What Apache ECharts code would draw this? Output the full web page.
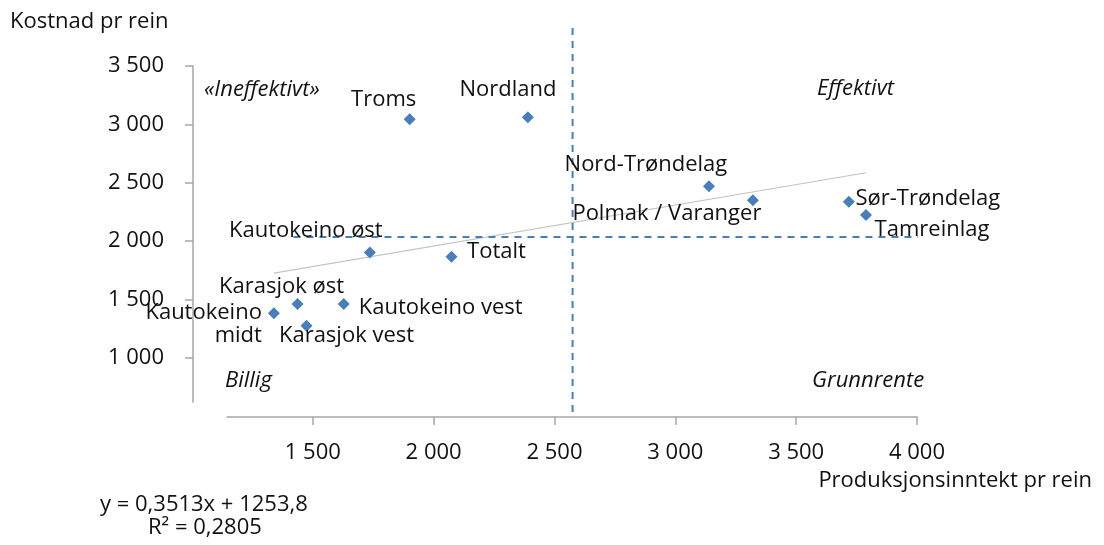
<!DOCTYPE html>
<html>
<head>
<meta charset="utf-8">
<style>
  html, body { margin: 0; padding: 0; background: #fff; }
  #chart { width: 1104px; height: 545px; }
</style>
<script src="https://cdn.jsdelivr.net/npm/echarts@6/dist/echarts.min.js"></script>
</head>
<body>
<div id="chart"></div>
<script>
// data
const areaNames = ['Troms', 'Nordland', 'Nord-Trøndelag', 'Polmak / Varanger', 'Sør-Trøndelag', 'Tamreinlag',
  'Kautokeino øst', 'Totalt', 'Karasjok øst', 'Kautokeino vest', 'Kautokeino\nmidt', 'Karasjok vest'];
const incomePerRein = [1901, 2390, 3139, 3321, 3718, 3789, 1736, 2074, 1437, 1628, 1339, 1474];
const costPerRein = [3044, 3061, 2470, 2350, 2336, 2222, 1902, 1865, 1460, 1460, 1380, 1274];
const xTickValues = [1500, 2000, 2500, 3000, 3500, 4000];
const yTickValues = [1000, 1500, 2000, 2500, 3000, 3500];
const trendStart = [1339, 1724];
const trendEnd = [3789, 2585];
const dividerIncome = 2575;
const dividerCost = 2035;
const dividerIncomeSpan = [535, 3865];
const dividerCostSpan = [1420, 4040];

// where each point label sits relative to its marker (px)
const labelOffsets = {
  'Troms': [-26, -19],
  'Nordland': [-20, -27],
  'Nord-Trøndelag': [-63, -21],
  'Polmak / Varanger': [-86, 14],
  'Sør-Trøndelag': [79, -3],
  'Tamreinlag': [66, 15],
  'Kautokeino øst': [-64, -22],
  'Totalt': [45, -5],
  'Karasjok øst': [-16, -17],
  'Kautokeino vest': [97, 4],
  'Kautokeino\nmidt': [-12, 11],
  'Karasjok vest': [40, 10]
};

const FONT = '"Open Sans", sans-serif';
const TEXT = '#111';
const BLUE = '#4a7ebb';
const AXIS = '#a6a6a6';
const SIZE = 22;

const fmt = v => String(v).replace(/\B(?=(\d{3})+(?!\d))/g, ' ');

const points = areaNames.map((name, i) => {
  const isRightAligned = name === 'Kautokeino\nmidt';
  return {
    name: name,
    value: [incomePerRein[i], costPerRein[i]],
    label: {
      offset: labelOffsets[name],
      align: isRightAligned ? 'right' : 'center'
    }
  };
});

const chart = echarts.init(document.getElementById('chart'), null, { renderer: 'canvas' });

const italic = { fontFamily: FONT, fontSize: SIZE, fontStyle: 'italic', fill: TEXT };

chart.setOption({
  animation: false,
  backgroundColor: '#fff',
  textStyle: { fontFamily: FONT, color: TEXT },
  grid: { left: 227, right: 187, top: 66, bottom: 143 },
  xAxis: {
    type: 'value',
    min: 1145,
    max: 4000,
    offset: 15,
    axisLine: { show: true, lineStyle: { color: AXIS, width: 1.5 } },
    axisTick: { show: true, length: 8, lineStyle: { color: AXIS, width: 1.5 }, customValues: xTickValues },
    axisLabel: { customValues: xTickValues, formatter: fmt, margin: 25, fontSize: SIZE, fontFamily: FONT, color: TEXT },
    splitLine: { show: false }
  },
  yAxis: {
    type: 'value',
    min: 620,
    max: 3500,
    offset: 34,
    axisLine: { show: true, lineStyle: { color: AXIS, width: 1.5 } },
    axisTick: { show: true, length: 8, lineStyle: { color: AXIS, width: 1.5 }, customValues: yTickValues },
    axisLabel: { customValues: yTickValues, formatter: fmt, margin: 29, fontSize: SIZE, fontFamily: FONT, color: TEXT },
    splitLine: { show: false }
  },
  series: [
    {
      type: 'line',
      data: [trendStart, trendEnd],
      symbol: 'none',
      lineStyle: { color: '#c4c4c4', width: 1.2 },
      silent: true,
      z: 1
    },
    {
      type: 'line',
      data: [[dividerIncome, dividerIncomeSpan[0]], [dividerIncome, dividerIncomeSpan[1]]],
      symbol: 'none',
      clip: false,
      lineStyle: { color: BLUE, width: 2, type: [7, 6] },
      silent: true,
      z: 1
    },
    {
      type: 'line',
      data: [[dividerCostSpan[0], dividerCost], [dividerCostSpan[1], dividerCost]],
      symbol: 'none',
      clip: false,
      lineStyle: { color: BLUE, width: 2, type: [7, 6] },
      silent: true,
      z: 1
    },
    {
      type: 'scatter',
      data: points,
      symbol: 'diamond',
      symbolSize: 12,
      itemStyle: { color: BLUE, opacity: 1 },
      label: {
        show: true,
        position: 'inside',
        formatter: p => p.name,
        fontFamily: FONT,
        fontSize: SIZE,
        color: TEXT,
        lineHeight: 23,
        verticalAlign: 'middle'
      },
      z: 3
    }
  ],
  graphic: [
    { type: 'text', left: 10, top: 11, style: { text: 'Kostnad pr rein', fontFamily: FONT, fontSize: SIZE, fill: TEXT } },
    { type: 'text', right: 12, top: 470, style: { text: 'Produksjonsinntekt pr rein', fontFamily: FONT, fontSize: SIZE, fill: TEXT } },
    { type: 'text', left: 204, top: 79, style: Object.assign({ text: '«Ineffektivt»' }, italic) },
    { type: 'text', left: 817, top: 78, style: Object.assign({ text: 'Effektivt' }, italic) },
    { type: 'text', left: 225, top: 370, style: Object.assign({ text: 'Billig' }, italic) },
    { type: 'text', left: 812, top: 370, style: Object.assign({ text: 'Grunnrente' }, italic) },
    { type: 'text', left: 100, top: 494, style: { text: 'y = 0,3513x + 1253,8', fontFamily: FONT, fontSize: SIZE, fill: TEXT } },
    { type: 'text', left: 148, top: 517, style: { text: 'R² = 0,2805', fontFamily: FONT, fontSize: SIZE, fill: TEXT } }
  ]
});
</script>
</body>
</html>
